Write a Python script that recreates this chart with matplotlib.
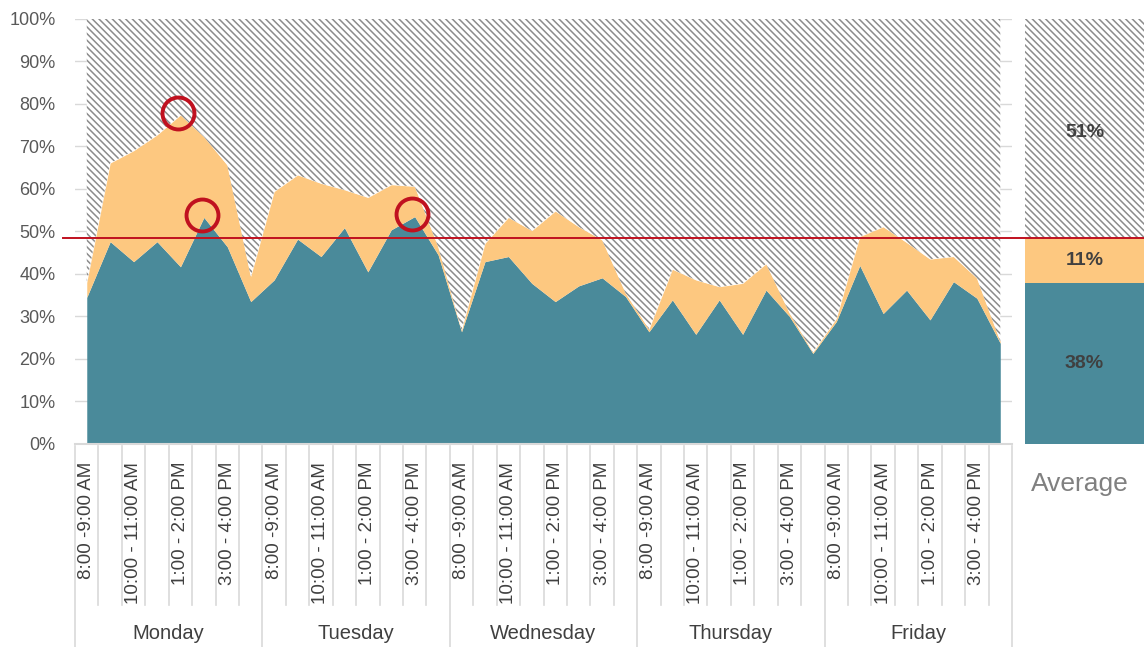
import matplotlib.pyplot as plt
import matplotlib.transforms as mtransforms
from matplotlib.lines import Line2D
import numpy as np

# Данные: загрузка по часовым слотам (в процентах)
days = ["Monday", "Tuesday", "Wednesday", "Thursday", "Friday"]
slots = ["8:00 -9:00 AM", "9:00 - 10:00 AM", "10:00 - 11:00 AM", "11:00 - 12:00 PM",
         "1:00 - 2:00 PM", "2:00 - 3:00 PM", "3:00 - 4:00 PM", "4:00 - 5:00 PM"]

busy = [34.5, 47.6, 42.9, 47.6, 41.7, 53.3, 46.4, 33.5,
        38.6, 48.2, 44.1, 50.9, 40.5, 50.4, 53.5, 44.5,
        26.4, 42.9, 44.1, 37.8, 33.5, 37.2, 39.1, 34.7,
        26.4, 33.9, 25.8, 33.9, 25.8, 36.2, 30.0, 21.3,
        28.8, 42.0, 30.7, 36.2, 29.2, 38.2, 34.3, 23.7]
partial = [3.5, 18.5, 26.1, 25.1, 35.7, 19.0, 19.2, 5.9,
           20.8, 15.1, 17.2, 8.9, 17.5, 10.6, 7.1, 1.9,
           0.4, 4.3, 9.2, 12.4, 21.3, 13.9, 8.9, 0.8,
           0.6, 7.2, 12.8, 3.1, 12.0, 6.2, 0.8, 0.3,
           0.7, 6.8, 20.4, 11.2, 14.3, 5.9, 4.7, 0.4]

# Точки, обведённые красным: (индекс, слой)
circled = [(4, "top"), (5, "busy"), (14, "busy")]

teal = "#4a8a9a"
orange = "#fdc880"
red = "#c0111f"
hatch_col = "#8c8c8c"
grid_col = "#d9d9d9"

plt.rcParams["font.family"] = ["Liberation Sans", "DejaVu Sans"]
plt.rcParams["hatch.linewidth"] = 1.1
plt.rcParams["hatch.color"] = hatch_col

busy = np.array(busy)
partial = np.array(partial)
top = busy + partial
x = np.arange(len(busy))

avg_busy = busy.mean()
avg_partial = partial.mean()
avg_free = 100 - avg_busy - avg_partial

fig = plt.figure(figsize=(11.44, 6.47), dpi=100)
ax = fig.add_axes([0.0656, 0.3138, 0.819, 0.6569])
ax2 = fig.add_axes([0.896, 0.3138, 0.104, 0.6569])

# Основной график с накоплением
ax.fill_between(x, 0, busy, color=teal, linewidth=0, zorder=2)
ax.fill_between(x, busy, top, color=orange, linewidth=0, zorder=2)
ax.fill_between(x, top, 100, facecolor="white", hatch="\\\\\\\\\\", edgecolor=hatch_col,
                linewidth=0, zorder=2)

for i, layer in circled:
    yv = top[i] if layer == "top" else busy[i]
    ax.plot(x[i] - 0.1, yv + 0.5, marker="o", markersize=23, markerfacecolor="none",
            markeredgecolor=red, markeredgewidth=2.8, zorder=5)

ax.set_xlim(-0.5, len(x) - 0.5)
ax.set_ylim(0, 100)
ax.set_yticks(range(0, 101, 10))
ax.set_yticklabels([f"{v}%" for v in range(0, 101, 10)], fontsize=13, color="#595959")
ax.tick_params(axis="y", length=0, pad=14)
ax.set_xticks([])
ax.yaxis.grid(True, color=grid_col, linewidth=1, zorder=0)
ax.set_axisbelow(True)
for s in ["left", "right", "top"]:
    ax.spines[s].set_visible(False)
ax.spines["bottom"].set_color(grid_col)
ax.spines["bottom"].set_linewidth(1.5)

# Подписи оси X в два уровня
trans = mtransforms.blended_transform_factory(ax.transData, ax.transAxes)
n = len(slots)
for i in range(len(x)):
    if i % 2 == 0:
        ax.text(x[i], -0.042, slots[i % n], rotation=90, ha="center", va="top",
                fontsize=13.5, color="#404040", transform=trans, clip_on=False)
for k in range(len(x) + 1):
    xb = k - 0.5
    y_end = -0.478 if k % n == 0 else -0.379
    ax.add_line(Line2D([xb, xb], [-0.004, y_end], color=grid_col, linewidth=1.2,
                       transform=trans, clip_on=False))
for d, day in enumerate(days):
    ax.text(d * n + (n - 1) / 2, -0.446, day, ha="center", va="center",
            fontsize=14.5, color="#404040", transform=trans, clip_on=False)

# Средние значения
ax2.bar(0.5, avg_busy, width=1, color=teal, linewidth=0)
ax2.bar(0.5, avg_partial, width=1, bottom=avg_busy, color=orange, linewidth=0)
ax2.bar(0.5, avg_free, width=1, bottom=avg_busy + avg_partial, facecolor="white",
        hatch="\\\\\\\\\\", edgecolor=hatch_col, linewidth=0)
ax2.text(0.5, avg_busy / 2, f"{avg_busy:.0f}%", ha="center", va="center",
         fontsize=14, fontweight="bold", color="#404040")
ax2.text(0.5, avg_busy + avg_partial / 2, f"{avg_partial:.0f}%", ha="center", va="center",
         fontsize=14, fontweight="bold", color="#404040")
ax2.text(0.5, avg_busy + avg_partial + avg_free / 2 - 1, f"{avg_free:.0f}%", ha="center",
         va="center", fontsize=14, fontweight="bold", color="#404040")
ax2.text(0.46, -0.095, "Average", ha="center", va="center", fontsize=19,
         color="#808080", transform=ax2.transAxes)
ax2.set_xlim(0, 1)
ax2.set_ylim(0, 100)
ax2.axis("off")

# Красная линия среднего уровня через оба графика
line_trans = mtransforms.blended_transform_factory(fig.transFigure, ax.transData)
fig.add_artist(Line2D([0.055, 1.0], [avg_busy + avg_partial] * 2, color=red,
                      linewidth=1.4, transform=line_trans, zorder=6))

plt.savefig("out.png", dpi=100)
